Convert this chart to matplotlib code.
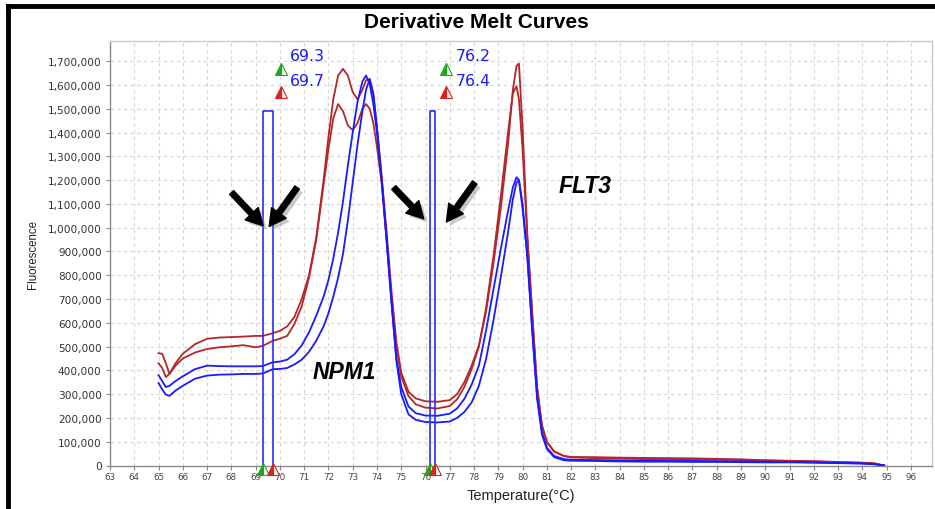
import matplotlib
matplotlib.use("Agg")
import matplotlib.pyplot as plt
import matplotlib.patheffects as pe
from matplotlib.lines import Line2D
from matplotlib.ticker import FuncFormatter

# ---------------- data ----------------
temperature = [
    65.0, 65.15, 65.3, 65.45, 65.7, 66.0, 66.5, 67.0, 67.5, 68.0,
    68.5, 69.0, 69.3, 69.7, 70.0, 70.3, 70.6, 70.9, 71.2, 71.5,
    71.8, 72.0, 72.2, 72.4, 72.6, 72.8, 73.0, 73.2, 73.4, 73.55,
    73.7, 73.85, 74.0, 74.2, 74.4, 74.6, 74.8, 75.0, 75.3, 75.6,
    76.0, 76.5, 77.0, 77.3, 77.6, 77.9, 78.2, 78.5, 78.8, 79.1,
    79.4, 79.6, 79.75, 79.85, 80.0, 80.2, 80.4, 80.6, 80.8, 81.0,
    81.3, 81.7, 82.0, 83, 84, 85, 86, 87, 88, 89,
    90, 91, 92, 93, 94, 94.5, 94.9,
]

# fluorescence values, in thousands
red_a = [
    472, 470, 430, 385, 430, 470, 510, 533, 538, 540,
    542, 545, 545, 556, 566, 585, 625, 700, 800, 960,
    1200, 1380, 1540, 1640, 1668, 1640, 1570, 1540, 1580, 1620,
    1625, 1560, 1420, 1210, 980, 730, 520, 390, 310, 282,
    270, 268, 275, 300, 350, 420, 505, 650, 850, 1080,
    1350, 1580, 1680, 1690, 1420, 960, 640, 330, 170, 100,
    60, 40, 36, 35, 33, 32, 31, 30, 28, 26,
    22, 20, 18, 15, 12, 9, 0,
]
red_b = [
    430, 410, 372, 385, 420, 450, 475, 490, 497, 501,
    506, 497, 503, 524, 533, 545, 595, 670, 790, 950,
    1180, 1330, 1460, 1520, 1490, 1430, 1410, 1440, 1500, 1520,
    1500, 1440, 1340, 1180, 950, 710, 500, 375, 292, 257,
    243, 240, 250, 278, 330, 405, 500, 665, 880, 1130,
    1400, 1565, 1595, 1540, 1330, 950, 630, 320, 165, 98,
    58, 40, 34, 31, 29, 27, 26, 25, 24, 23,
    21, 19, 17, 14, 11, 8, 0,
]
blue_a = [
    380, 355, 330, 335, 355, 375, 405, 420, 418, 417,
    417, 417, 418, 434, 437, 445, 468, 505, 560, 630,
    710, 780, 870, 980, 1110, 1260, 1400, 1530, 1615, 1640,
    1605, 1520, 1400, 1190, 940, 680, 450, 330, 248, 220,
    210, 209, 218, 240, 280, 340, 420, 570, 740, 910,
    1070, 1170, 1212, 1200, 1080, 880, 570, 290, 140, 75,
    40, 27, 24, 23, 21, 20, 19, 19, 18, 17,
    16, 15, 13, 11, 9, 6, 0,
]
blue_b = [
    347, 320, 298, 293, 315, 335, 365, 378, 382, 383,
    385, 385, 387, 405, 406, 410, 425, 445, 478, 525,
    585, 640, 710, 790, 890, 1030, 1190, 1350, 1490, 1580,
    1625, 1565, 1420, 1200, 950, 690, 440, 300, 215, 192,
    183, 181, 185, 200, 225, 265, 335, 450, 610, 790,
    980, 1120, 1190, 1200, 1100, 870, 560, 280, 130, 70,
    35, 22, 20, 19, 17, 16, 16, 15, 15, 14,
    13, 13, 12, 10, 8, 5, 0,
]

tm_markers_green = [69.3, 76.2]
tm_markers_red = [69.7, 76.4]
tm_labels_green = ["69.3", "76.2"]
tm_labels_red = ["69.7", "76.4"]
bar_height = 1490000

x_ticks = list(range(63, 97))
y_ticks = list(range(0, 1700001, 100000))

# ---------------- figure ----------------
W, H = 935, 510
fig = plt.figure(figsize=(W / 100, H / 100), dpi=100)
fig.patch.set_facecolor("white")

ax_l, ax_r, ax_t, ax_b = 110, 932, 42, 466.5
ax = fig.add_axes([ax_l / W, 1 - ax_b / H, (ax_r - ax_l) / W, (ax_b - ax_t) / H])
ax.set_xlim(63, 96.87)
ax.set_ylim(0, 1785000)

ax.set_xticks(x_ticks)
ax.set_yticks(y_ticks)
ax.yaxis.set_major_formatter(FuncFormatter(lambda v, p: f"{int(v):,}"))
ax.tick_params(axis="y", labelsize=7.6, colors="#888888", labelcolor="#333333",
               length=3, width=0.8, pad=3)
ax.tick_params(axis="x", labelsize=6.3, colors="#888888", labelcolor="#444444",
               length=3, width=0.8, pad=2)
for lab in ax.get_xticklabels() + ax.get_yticklabels():
    lab.set_fontfamily("DejaVu Sans")

ax.grid(True, color="#d6d6d6", linestyle=(0, (3, 3)), linewidth=0.8)
ax.set_axisbelow(True)
for s in ["left", "bottom"]:
    ax.spines[s].set_color("#8a8a8a")
    ax.spines[s].set_linewidth(1.0)
for s in ["top", "right"]:
    ax.spines[s].set_color("#c8c8c8")
    ax.spines[s].set_linewidth(1.0)

red = "#b5262b"
blue = "#1a1aff"
for vals, c in [(red_a, red), (red_b, red), (blue_a, blue), (blue_b, blue)]:
    ax.plot(temperature, [v * 1000 for v in vals], color=c, lw=1.3, zorder=3)

# Tm bars (thin rectangles)
for g, r in zip(tm_markers_green, tm_markers_red):
    ax.plot([g, g, r, r], [0, bar_height, bar_height, 0], color="#2a2aff", lw=1.2, zorder=4)

# triangle markers at the bottom of the axis
for g, r in zip(tm_markers_green, tm_markers_red):
    ax.plot([g], [-15000], marker="^", markersize=8, fillstyle="left",
            markerfacecolor="#1fa51f", markerfacecoloralt="white",
            markeredgecolor="#1fa51f", markeredgewidth=0.8, clip_on=False, zorder=6)
    ax.plot([r], [-15000], marker="^", markersize=8, fillstyle="left",
            markerfacecolor="#e02020", markerfacecoloralt="white",
            markeredgecolor="#e02020", markeredgewidth=0.8, clip_on=False, zorder=6)

# Tm readouts at top
for lg, lr, xm in zip(tm_labels_green, tm_labels_red, [70.04, 76.86]):
    ax.plot([xm], [1666000], marker="^", markersize=8, fillstyle="left",
            markerfacecolor="#1fa51f", markerfacecoloralt="white",
            markeredgecolor="#1fa51f", markeredgewidth=0.8, zorder=6)
    ax.plot([xm], [1569000], marker="^", markersize=8, fillstyle="left",
            markerfacecolor="#e02020", markerfacecoloralt="white",
            markeredgecolor="#e02020", markeredgewidth=0.8, zorder=6)
    ax.text(xm + 0.37, 1722000, lg, color="#1a1aff", fontsize=11.3,
            family="DejaVu Sans", va="center", ha="left", zorder=7)
    ax.text(xm + 0.37, 1620000, lr, color="#1a1aff", fontsize=11.3,
            family="DejaVu Sans", va="center", ha="left", zorder=7)

# arrows
arrows = [
    ((68.01, 1148000), (69.31, 1008000)),
    ((70.71, 1169000), (69.56, 1005000)),
    ((74.69, 1169000), (75.93, 1037000)),
    ((78.03, 1190000), (76.86, 1024000)),
]
for tail, head in arrows:
    an = ax.annotate("", xy=head, xytext=tail,
                     arrowprops=dict(facecolor="black", edgecolor="black",
                                     width=4, headwidth=13, headlength=12, shrink=0),
                     zorder=8)
    an.arrow_patch.set_path_effects([
        pe.SimplePatchShadow(offset=(2.5, -2.5), shadow_rgbFace="#888888", alpha=0.45),
        pe.Normal()])

ax.text(72.67, 397000, "NPM1", fontsize=16.5, fontweight="bold", fontstyle="italic",
        family="Liberation Sans", ha="center", va="center", zorder=7)
ax.text(82.56, 1179000, "FLT3", fontsize=16.5, fontweight="bold", fontstyle="italic",
        family="Liberation Sans", ha="center", va="center", zorder=7)

ax.set_xlabel("Temperature(°C)", fontsize=10.5, family="Liberation Sans", color="#222222",
              labelpad=5)
ax.set_ylabel("Fluorescence", fontsize=8.3, family="Liberation Sans", color="#222222",
              labelpad=6)

fig.text(476.5 / W, 1 - 22 / H, "Derivative Melt Curves", fontsize=15, fontweight="bold",
         family="Liberation Sans", ha="center", va="center")

# black frame (left and top edges of the original window)
fig.add_artist(Line2D([8 / W, 8 / W], [0, 1 - 7 / H], color="black", lw=3.5,
                      transform=fig.transFigure))
fig.add_artist(Line2D([8 / W, 1], [1 - 7 / H, 1 - 7 / H], color="black", lw=3.5,
                      transform=fig.transFigure))

fig.savefig("out.png", dpi=100)
